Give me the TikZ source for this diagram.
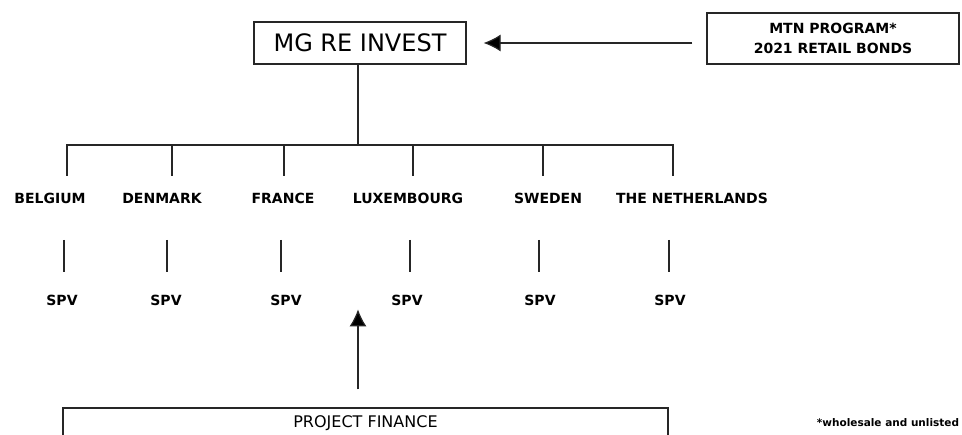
\documentclass[tikz,border=0pt]{standalone}
\usepackage{fontspec}
\setmainfont{DejaVu Sans}
\usepackage{tikz}
\usetikzlibrary{arrows.meta}
\usetikzlibrary{positioning}

\begin{document}
\begin{tikzpicture}[x=1pt, y=-1pt,
  link/.style={line width=1.2pt, color=black!85},
  arr/.style={link, -{Latex[length=17pt, width=17pt, fill=black]}},
  box/.style={draw=black!85, line width=1.2pt, rectangle, inner sep=0pt},
  country/.style={font=\fontsize{14}{17}\selectfont\bfseries, inner sep=0pt},
  spv/.style={font=\fontsize{14}{17}\selectfont\bfseries, inner sep=0pt}]
\useasboundingbox (0,0) rectangle (962,435);
\clip (0,0) rectangle (962,435);

\node[box, minimum width=212pt, minimum height=42pt, font=\fontsize{24}{28}\selectfont] (invest) at (360,43) {MG RE INVEST};
\node[box, minimum width=252pt, minimum height=51pt, align=center, font=\fontsize{14}{20}\selectfont\bfseries] (mtn) at (833,38.5) {MTN PROGRAM*\\2021 RETAIL BONDS};
\draw[arr, shorten <=14pt, shorten >=17pt] (mtn.west |- invest.east) -- (invest.east);

\coordinate (hub) at (358,145);
\draw[link] (invest.south -| hub) -- (hub);

\foreach \nm/\txt/\cx/\dx/\lx/\sx in {be/BELGIUM/50/67/64/62, dk/DENMARK/162/172/167/166, fr/FRANCE/283/284/281/286, lu/LUXEMBOURG/408/413/410/407, se/SWEDEN/548/543/539/540, nl/THE NETHERLANDS/692/673/669/670}
{
  \coordinate (top-\nm) at (\dx,145);
  \draw[link] (top-\nm) -- ++(0,31);
  \node[country] (\nm) at (\cx,198) {\txt};
  \draw[link] (\lx,240) -- (\lx,272); % spv link
  \node[spv] (spv-\nm) at (\sx,300) {SPV};
}
\draw[link, line cap=rect] (top-be) -- (top-nl);

\node[box, minimum width=605pt, minimum height=30pt, font=\fontsize{16}{19}\selectfont] (pf) at (365.5,423) {PROJECT FINANCE};
\draw[arr] (pf.north -| hub) ++(0,-18) -- ++(0,-80);

\node[font=\fontsize{10.5}{13}\selectfont\bfseries] (note) at (888,423) {*wholesale and unlisted};
\end{tikzpicture}
\end{document}
